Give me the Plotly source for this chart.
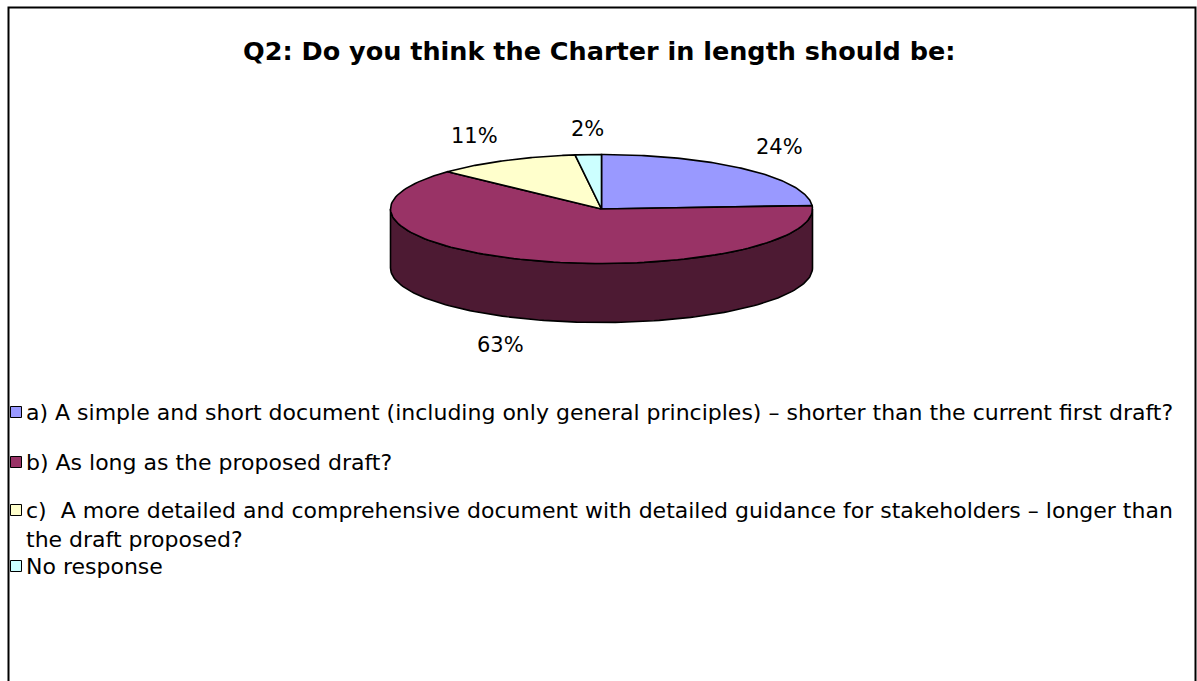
import numpy as np
import plotly.graph_objects as go

# Survey answers and their shares (%)
categories = [
    "a) A simple and short document (including only general principles) – shorter than the current first draft?",
    "b) As long as the proposed draft?",
    "c)  A more detailed and comprehensive document with detailed guidance for stakeholders – longer than<br>the draft proposed?",
    "No response",
]
shares = [24, 63, 11, 2]
title_text = "Q2: Do you think the Charter in length should be:"

top_colors = ["#9999FF", "#993366", "#FFFFCC", "#CCFFFF"]
side_colors = ["#4D4D80", "#4D1A33", "#808066", "#668080"]

W, H = 1197, 681
FONT = "DejaVu Sans"

# pie geometry (unit radius in x, tilted ellipse, extruded side)
PX = 211.0             # pixels per unit
CX, CY = 601.5, 209.0  # pixel position of the pie centre
TILT = 54.5 / PX
DEPTH = 59.0 / PX
EDGE = dict(color="black", width=1.6)


def rim(t0, t1, n=120):
    t = np.radians(np.linspace(t0, t1, max(n, 2)))
    return np.sin(t), TILT * np.cos(t)


fig = go.Figure()

total = float(sum(shares))
bounds = np.concatenate([[0.0], np.cumsum(shares) / total * 360.0])

# extruded sides (only the front half, 90°..270°, is visible)
for i in range(len(shares)):
    lo, hi = max(bounds[i], 90.0), min(bounds[i + 1], 270.0)
    if lo >= hi:
        continue
    xt, yt = rim(lo, hi)
    xs = np.concatenate([xt, xt[::-1], xt[:1]])
    ys = np.concatenate([yt, yt[::-1] - DEPTH, yt[:1]])
    fig.add_trace(go.Scatter(x=xs, y=ys, mode="lines", fill="toself",
                             fillcolor=side_colors[i], line=EDGE,
                             hoverinfo="skip", showlegend=False))

# top faces
for i in range(len(shares)):
    xt, yt = rim(bounds[i], bounds[i + 1])
    xs = np.concatenate([[0.0], xt, [0.0]])
    ys = np.concatenate([[0.0], yt, [0.0]])
    fig.add_trace(go.Scatter(x=xs, y=ys, mode="lines", fill="toself",
                             fillcolor=top_colors[i], line=EDGE,
                             name=categories[i].replace("<br>", " "),
                             hoverinfo="name", showlegend=False))

# percentage labels placed just outside the rim
gap = 12.0 / PX
annotations = []
for i, v in enumerate(shares):
    mid = np.radians((bounds[i] + bounds[i + 1]) / 2.0)
    s, c = np.sin(mid), np.cos(mid)
    x = (1.0 + gap) * s
    y = (TILT + gap) * c
    if c < 0:
        y -= DEPTH
    xanchor = "center" if abs(s) < 0.2 else ("left" if s > 0 else "right")
    yanchor = "bottom" if c > 0 else "top"
    annotations.append(dict(x=x, y=y, xref="x", yref="y", showarrow=False,
                            text=f"{v}%", xanchor=xanchor, yanchor=yanchor,
                            font=dict(family=FONT, size=21, color="black")))

annotations.append(dict(x=0.5, y=1 - 51 / H, xref="paper", yref="paper",
                        showarrow=False, text=f"<b>{title_text}</b>",
                        xanchor="center", yanchor="middle",
                        font=dict(family=FONT, size=25.5, color="black")))

# legend: colour key squares with their answer text
legend_rows = [412, 462, 510, 566]   # pixel row of each key
LEG_SIZE = 22
LINE_H = 1.3 * LEG_SIZE
shapes = []
for i, cat in enumerate(categories):
    row = legend_rows[i]
    shapes.append(dict(type="rect", xref="paper", yref="paper",
                       x0=10.5 / W, x1=21.5 / W,
                       y0=1 - (row + 5.5) / H, y1=1 - (row - 5.5) / H,
                       fillcolor=top_colors[i],
                       line=dict(color="black", width=1)))
    annotations.append(dict(x=24 / W, y=1 - (row - LINE_H / 2) / H,
                            xref="paper", yref="paper", showarrow=False,
                            text=cat, align="left",
                            xanchor="left", yanchor="top",
                            font=dict(family=FONT, size=LEG_SIZE, color="black")))

# outer chart frame
shapes.append(dict(type="rect", xref="paper", yref="paper",
                   x0=8.5 / W, x1=1195.5 / W, y0=-0.1, y1=1 - 7.5 / H,
                   line=dict(color="black", width=2),
                   fillcolor="rgba(0,0,0,0)", layer="above"))

fig.update_layout(
    width=W, height=H,
    margin=dict(l=0, r=0, t=0, b=0),
    paper_bgcolor="white", plot_bgcolor="white",
    showlegend=False,
    xaxis=dict(range=[(0 - CX) / PX, (W - CX) / PX], visible=False, fixedrange=True),
    yaxis=dict(range=[(CY - H) / PX, CY / PX], visible=False, fixedrange=True),
    annotations=annotations,
    shapes=shapes,
)

fig.write_html("out.html")
